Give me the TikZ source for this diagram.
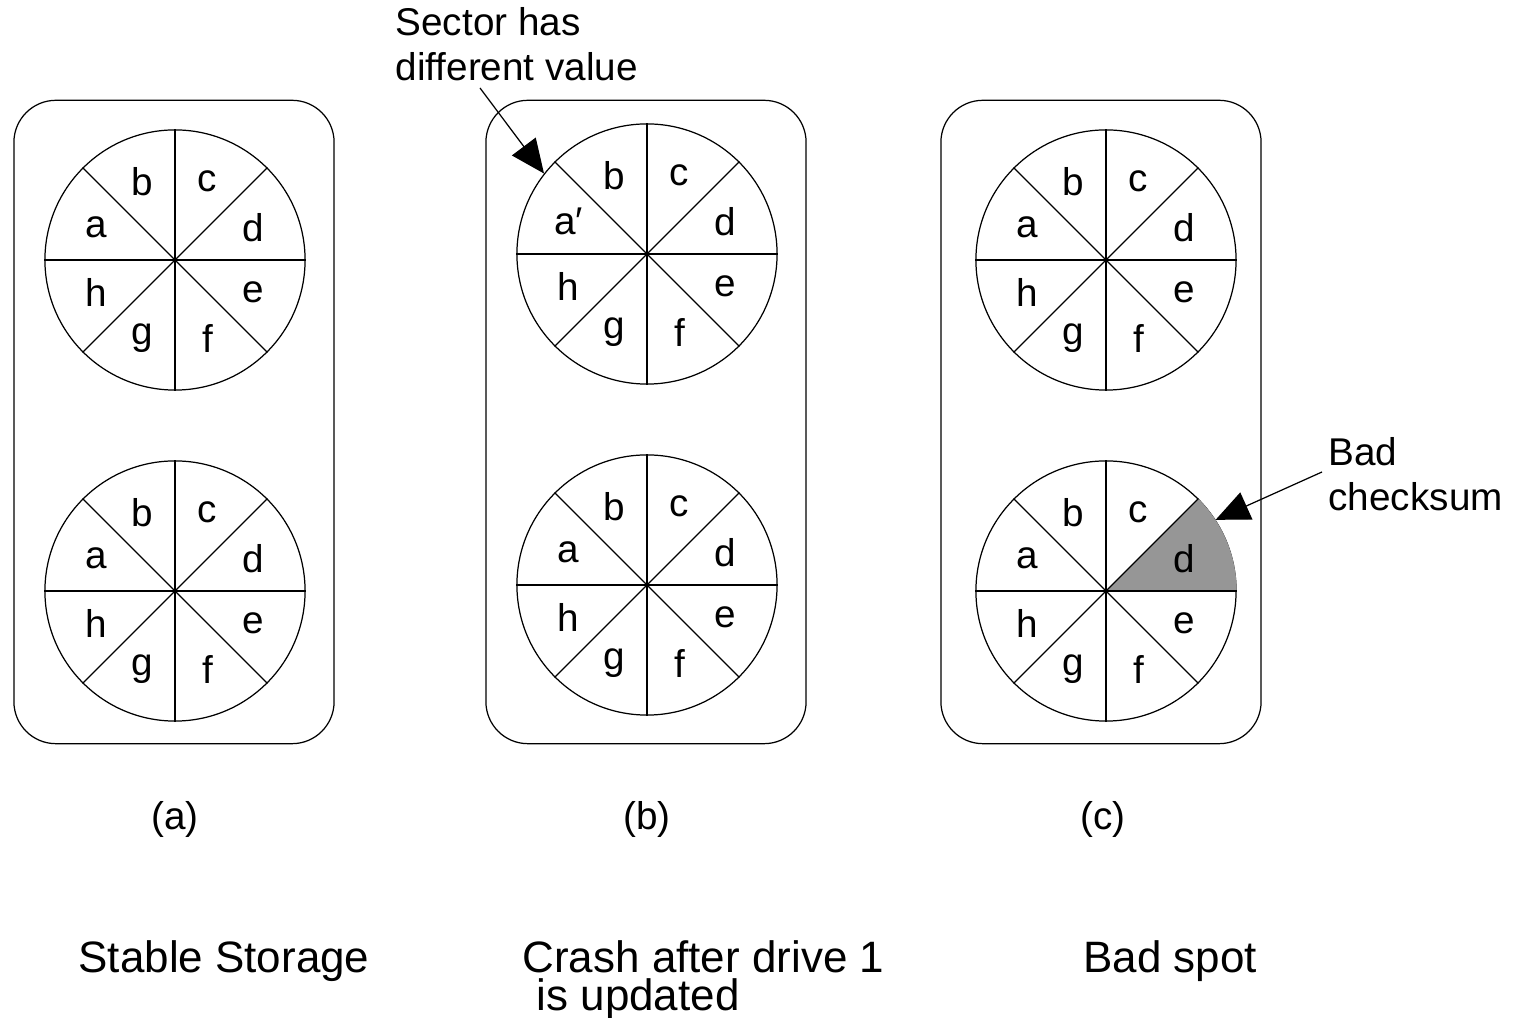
\documentclass[tikz,border=0pt]{standalone}
\usepackage{fontspec}
\setmainfont{Liberation Sans}
\usetikzlibrary{arrows.meta}
\definecolor{diskgrey}{RGB}{150,150,150}
\newcommand{\sectorprime}{\symbol{"2032}}

\begin{document}
\begin{tikzpicture}[x=0.01cm, y=0.01cm, line width=0.35pt,
  font=\fontsize{11}{12.8}\selectfont,
  panel/.style={draw, rounded corners=0.42cm, minimum width=3.2cm, minimum height=6.43cm, inner sep=0pt},
  disk/.style={draw, circle, minimum size=2.6cm, inner sep=0pt},
  note/.style={align=left, anchor=north west, inner sep=0pt},
  title/.style={align=left, anchor=north west, inner sep=0pt, font=\fontsize{12.5}{10.8}\selectfont},
  pointer/.style={-{Triangle[length=9.6pt, width=8.4pt]}}]
\useasboundingbox (0,0) rectangle (1514,1018);

% Panels
\node[panel] (pa) at (174,596) {};
\node[panel] (pb) at (646,596) {};
\node[panel] (pc) at (1101,596) {};

% Disks, two drives per panel
\foreach \n/\x/\y in {a1/175/758, a2/175/427, b1/647/764, b2/647/433, c1/1106/758, c2/1106/427}
  \node[disk] (\n) at (\x,\y) {};

% Bad sector on drive 2 of (c)
\fill[diskgrey] (c2.center) -- (c2.0) arc[start angle=0, end angle=45, radius=1.3cm] -- cycle;

% Sector lines and labels
\foreach \n/\la in {a1/a, a2/a, b1/{a\sectorprime}, b2/a, c1/a, c2/a} {
  \foreach \s/\t in {0/180, 45/225, 90/270, 135/315}
    \draw (\n.\s) -- (\n.\t);
  \foreach \ang/\lab [count=\k] in {22.5/d, 67.5/c, 112.5/b, 157.5/\la, 202.5/h, 247.5/g, 292.5/f, 337.5/e}
    \path (\n.center) ++(\ang:85) node (\n-l\k) {\lab};
}

% Notes with pointers
\node[note] (sectornote) at (395,1011) {Sector has\\different value};
\coordinate (sectortail) at (480,930);
\draw[pointer] (sectortail) -- (b1.142);

\node[note] (checknote) at (1328,581) {Bad\\checksum};
\coordinate (checktail) at (1322,546);
\draw[pointer] (checktail) -- (c2.33);

% Captions
\node (capa) at (175,199) {(a)};
\node (capb) at (647,199) {(b)};
\node (capc) at (1103,199) {(c)};

\node[title] (titlea) at (78,78) {Stable Storage};
\node[title] (titleb) at (522,78) {Crash after drive 1\\\hspace*{4pt}is updated};
\node[title] (titlec) at (1083,78) {Bad spot};

\end{tikzpicture}
\end{document}
